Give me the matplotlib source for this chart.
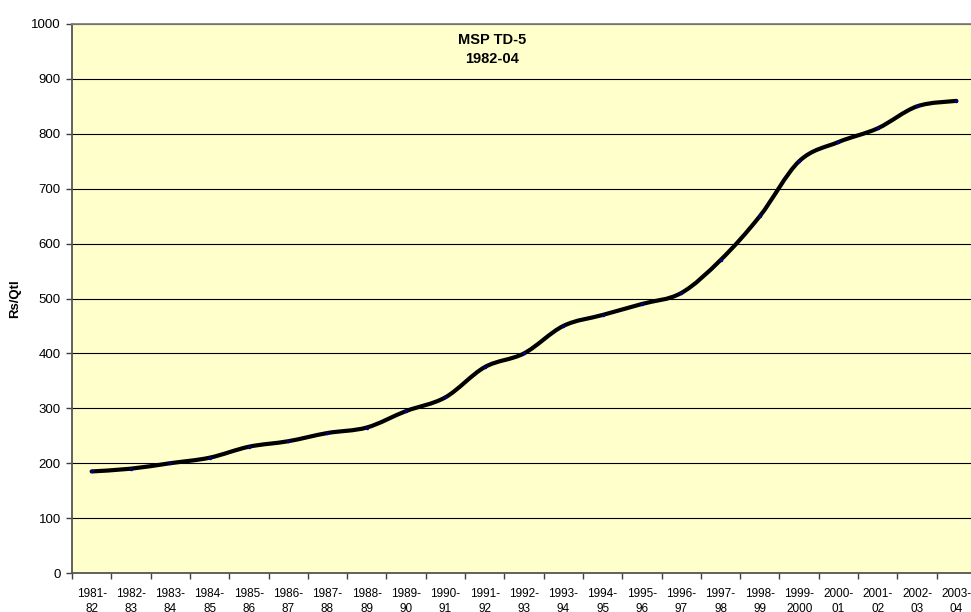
import numpy as np
import matplotlib.pyplot as plt
from matplotlib.path import Path
from matplotlib.patches import PathPatch

# MSP of TD-5 (Rs/Qtl)
years = ["1981-\n82", "1982-\n83", "1983-\n84", "1984-\n85", "1985-\n86", "1986-\n87",
         "1987-\n88", "1988-\n89", "1989-\n90", "1990-\n91", "1991-\n92", "1992-\n93",
         "1993-\n94", "1994-\n95", "1995-\n96", "1996-\n97", "1997-\n98", "1998-\n99",
         "1999-\n2000", "2000-\n01", "2001-\n02", "2002-\n03", "2003-\n04"]
msp = [185, 190, 200, 210, 230, 240, 255, 265, 295, 320, 375, 400,
       450, 470, 490, 510, 570, 650, 750, 785, 810, 850, 860]
y_ticks = [0, 100, 200, 300, 400, 500, 600, 700, 800, 900, 1000]

plt.rcParams['font.family'] = ['Liberation Sans', 'DejaVu Sans']

fig = plt.figure(figsize=(9.71, 6.12), dpi=100)
ax = fig.add_axes([72 / 971, 1 - 573 / 612, 904 / 971, 549 / 612])
ax.set_facecolor('#FFFFCC')

x = np.arange(len(msp))
y = np.array(msp, dtype=float)

# smoothed line like Excel: cubic bezier segments through the data points
verts = [(x[0], y[0])]
codes = [Path.MOVETO]
n = len(x)
for i in range(n - 1):
	p0 = (x[max(i - 1, 0)], y[max(i - 1, 0)])
	p1 = (x[i], y[i])
	p2 = (x[i + 1], y[i + 1])
	p3 = (x[min(i + 2, n - 1)], y[min(i + 2, n - 1)])
	c1 = (p1[0] + (p2[0] - p0[0]) / 6, p1[1] + (p2[1] - p0[1]) / 6)
	c2 = (p2[0] - (p3[0] - p1[0]) / 6, p2[1] - (p3[1] - p1[1]) / 6)
	verts += [c1, c2, p2]
	codes += [Path.CURVE4] * 3
ax.add_patch(PathPatch(Path(verts, codes), facecolor='none', edgecolor='black',
                       lw=3, capstyle='round', joinstyle='round', zorder=3))
ax.plot(x, y, ls='none', marker='o', ms=1.5, color='#000080', zorder=4)

ax.set_xlim(-0.5, len(msp) - 0.5)
ax.set_ylim(0, 1000)
ax.set_yticks(y_ticks)
ax.yaxis.grid(True, color='black', lw=0.8)
ax.set_axisbelow(True)

ax.set_xticks(x)
ax.set_xticklabels(years, fontsize=8.5, linespacing=1.4)
ax.set_xticks(np.arange(len(msp) + 1) - 0.5, minor=True)
ax.tick_params(axis='x', which='major', length=0, pad=10.5)
ax.tick_params(axis='x', which='minor', length=4, color='#404040', width=1)
ax.tick_params(axis='y', length=4, color='#404040', width=1, labelsize=9.5, pad=4)

for side in ['left', 'bottom']:
	ax.spines[side].set_color('#555555')
	ax.spines[side].set_linewidth(1.3)
ax.spines['top'].set_color('#808080')
ax.spines['top'].set_linewidth(1.3)
ax.spines['right'].set_visible(False)

ax.set_ylabel('Rs/Qtl', fontsize=9.5, fontweight='bold')
ax.yaxis.set_label_coords(-0.056, 0.5)

fig.text(492 / 971, 1 - 49.5 / 612, 'MSP TD-5\n1982-04', ha='center', va='center',
         fontsize=10.5, fontweight='bold', linespacing=1.5)

plt.savefig('out.png', dpi=100, facecolor='white')
